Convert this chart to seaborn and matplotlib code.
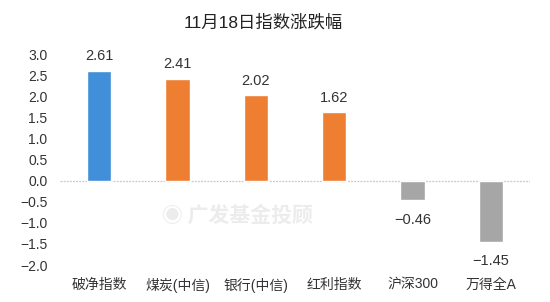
import matplotlib
matplotlib.use("Agg")
import matplotlib.pyplot as plt
import seaborn as sns
import pandas as pd

categories = ["破净指数", "煤炭(中信)", "银行(中信)", "红利指数", "沪深300", "万得全A"]
values = [2.61, 2.41, 2.02, 1.62, -0.46, -1.45]
bar_colors = ["#418FD8", "#EE7E32", "#EE7E32", "#EE7E32", "#A6A6A6", "#A6A6A6"]
yticks = [-2.0, -1.5, -1.0, -0.5, 0.0, 0.5, 1.0, 1.5, 2.0, 2.5, 3.0]
title = "11月18日指数涨跌幅"
watermark = "广发基金投顾"

sns.set_theme(style="white")
plt.rcParams['font.family'] = ['Liberation Sans', 'Noto Sans CJK SC', 'DejaVu Sans']
plt.rcParams['axes.unicode_minus'] = True

df = pd.DataFrame({"cat": categories, "val": values})

fig = plt.figure(figsize=(5.5, 3.02), dpi=100)
ax = fig.add_axes([0.109, 0.1225, 0.855, 0.6985])
sns.barplot(data=df, x="cat", y="val", hue="cat", palette=bar_colors,
            legend=False, width=0.31, ax=ax, saturation=1)

ax.set_ylim(-2.0, 3.0)
ax.set_yticks(yticks)
ax.set_yticklabels([f"{t:.1f}".replace("-", "−") for t in yticks], fontsize=10, color="#333333")
ax.set_xlim(-0.5, len(categories) - 0.5)
ax.set_xlabel("")
ax.set_ylabel("")
ax.tick_params(axis="x", length=0, pad=9, labelsize=10, labelcolor="#333333")
ax.tick_params(axis="y", length=0, pad=9)
for s in ax.spines.values():
    s.set_visible(False)
ax.axhline(0, color="#C8C8C8", lw=0.9, ls=(0, (1.5, 1)), zorder=0)

for i, v in enumerate(values):
    txt = f"{v:.2f}".replace("-", "−")
    if v >= 0:
        ax.text(i, v + 0.18, txt, ha="center", va="bottom", fontsize=10.5, color="#333333")
    else:
        ax.text(i, v - 0.3, txt, ha="center", va="top", fontsize=10.5, color="#333333")

fig.text(0.478, 0.925, title, ha="center", va="center", fontsize=12.5, color="#222222")
ax.text(1.77, -0.83, "◉ " + watermark, ha="center", va="center", fontsize=15,
        fontweight="bold", color="#ECECEC", zorder=0,
        family=['Noto Sans CJK SC', 'DejaVu Sans'])

fig.savefig("out.png", dpi=100, facecolor="white")
